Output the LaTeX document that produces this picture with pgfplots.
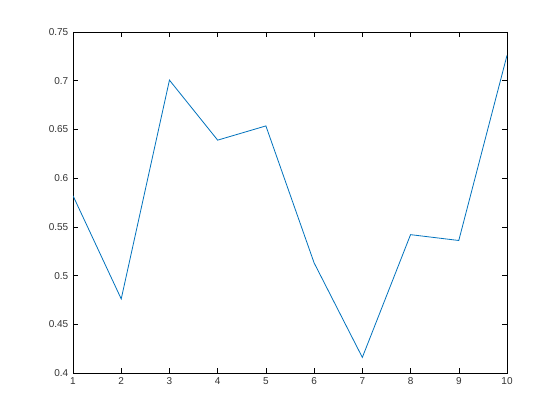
\documentclass[border=0pt]{standalone}
\usepackage{fontspec}
\setmainfont{Liberation Sans}
\usepackage{pgfplots}
\pgfplotsset{compat=1.18}
\definecolor{mblue}{rgb}{0,0.447,0.741}
\begin{document}
\begin{tikzpicture}
\useasboundingbox[fill=white] (0,0) rectangle (420pt,315pt);
\begin{axis}[
  at={(54.75pt,35.25pt)}, anchor=south west,
  scale only axis,
  width=325.5pt, height=255.75pt,
  xmin=1, xmax=10, ymin=0.4, ymax=0.75,
  xtick={1,...,10},
  ytick={0.4,0.45,...,0.75},
  tick align=inside,
  major tick length=3.5pt,
  axis line style={line width=0.5pt},
  tick style={line width=0.4pt, black},
  every tick label/.append style={font=\fontsize{7.5}{9}\selectfont, text=black!80},
  /pgf/number format/assume math mode=true,
  yticklabel style={/pgf/number format/.cd, fixed, precision=2},
  xtick pos=both, ytick pos=both,
]
\addplot[mblue, line width=0.6pt] coordinates {
  (1,0.582) (2,0.476) (3,0.7006) (4,0.639) (5,0.6536)
  (6,0.513) (7,0.416) (8,0.542) (9,0.536) (10,0.726)
};
\end{axis}
\end{tikzpicture}
\end{document}
